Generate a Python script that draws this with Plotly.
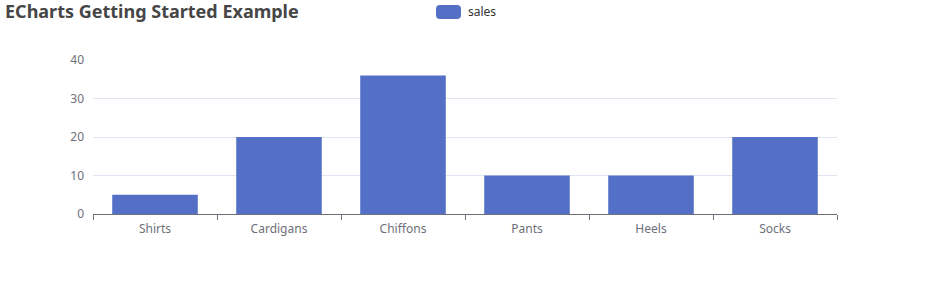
import plotly.graph_objects as go

categories = ["Shirts", "Cardigans", "Chiffons", "Pants", "Heels", "Socks"]
sales = [5, 20, 36, 10, 10, 20]
series_name = "sales"
title_text = "ECharts Getting Started Example"

W, H = 930, 285
L, R, T, B = 93, 93, 60, 71
pw, ph = W - L - R, H - T - B

def px_x(px):
    return (px - L) / pw

def px_y(py):
    return (H - B - py) / ph

color = "#5470c6"
font_family = "'Microsoft YaHei', 'Noto Sans', 'Open Sans', sans-serif"

fig = go.Figure()
fig.add_trace(go.Bar(x=categories, y=sales, name=series_name, marker_color=color,
                     marker_line_width=0, showlegend=False))

fig.update_layout(
    width=W, height=H,
    margin=dict(l=L, r=R, t=T, b=B),
    paper_bgcolor="white", plot_bgcolor="white",
    bargap=0.31,
    font=dict(family=font_family, size=12, color="#6E7079"),
    title=dict(text="<b>" + title_text + "</b>", x=5 / W, xanchor="left",
               y=1 - 5 / H, yanchor="top", yref="container", xref="container",
               font=dict(size=18, color="#464646", family=font_family)),
)
fig.update_xaxes(
    showline=True, linecolor="#6E7079", linewidth=1,
    ticks="outside", tickson="boundaries", ticklen=5, tickcolor="#6E7079",
    showgrid=False, tickfont=dict(size=12, color="#6E7079"),
    ticklabelstandoff=4, fixedrange=True,
)
fig.update_yaxes(
    range=[0, 40], dtick=10, showgrid=True, gridcolor="#E0E6F1", gridwidth=1,
    zeroline=False, showline=False, ticks="", ticklabelstandoff=8,
    tickfont=dict(size=12, color="#6E7079"), fixedrange=True,
)

# legend (ECharts style rounded rect + label)
x0, x1, y0, y1, r = 436, 461, 5, 19, 4
def P(x, y):
    return f"{px_x(x)},{px_y(y)}"
path = (f"M {P(x0 + r, y0)} L {P(x1 - r, y0)} Q {P(x1, y0)} {P(x1, y0 + r)} "
        f"L {P(x1, y1 - r)} Q {P(x1, y1)} {P(x1 - r, y1)} "
        f"L {P(x0 + r, y1)} Q {P(x0, y1)} {P(x0, y1 - r)} "
        f"L {P(x0, y0 + r)} Q {P(x0, y0)} {P(x0 + r, y0)} Z")
fig.add_shape(type="path", xref="paper", yref="paper", path=path,
              fillcolor=color, line=dict(width=0))
fig.add_annotation(text=series_name, xref="paper", yref="paper",
                   x=px_x(466), y=px_y(12), xanchor="left", yanchor="middle",
                   showarrow=False, font=dict(size=12, color="#333333"))

fig.write_html("out.html")
